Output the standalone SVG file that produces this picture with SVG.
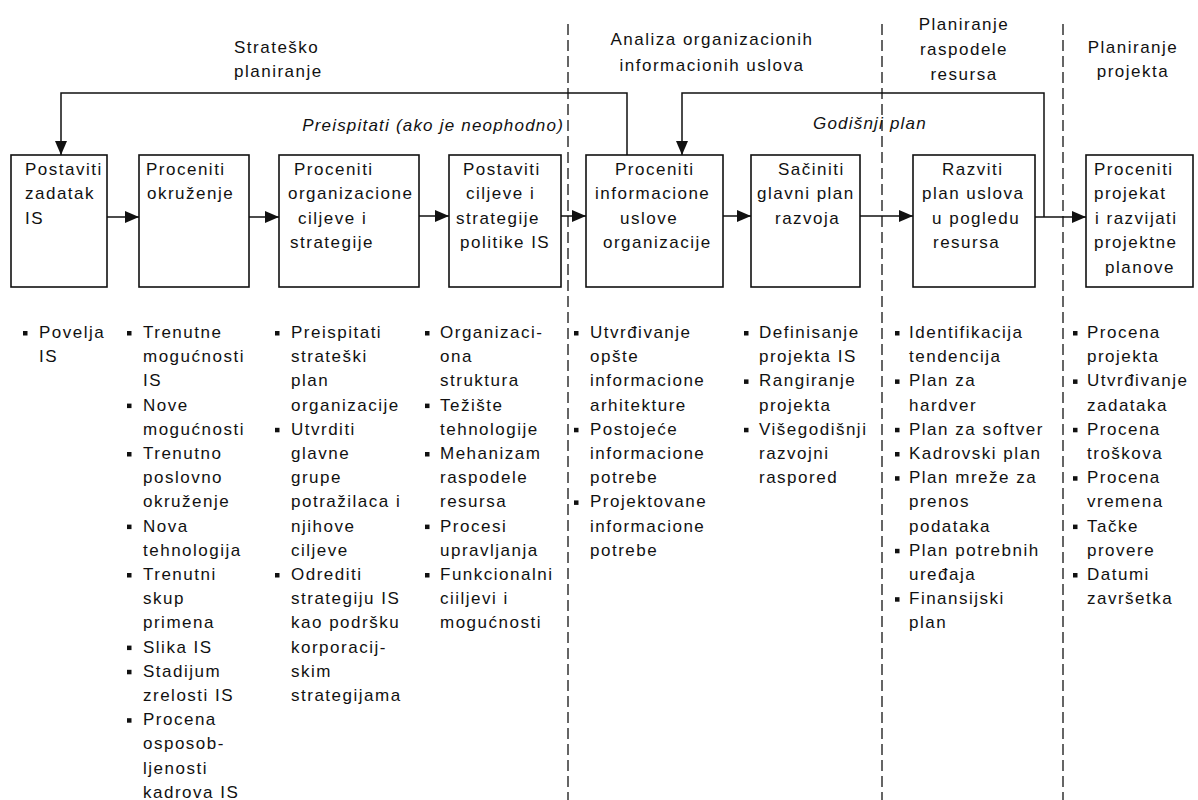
<svg xmlns="http://www.w3.org/2000/svg" width="1198" height="800" viewBox="0 0 1198 800">
  <style>
    text { font-family: "Liberation Sans", Arial, sans-serif; font-size: 17px; letter-spacing: 1.5px; fill: #111; }
    .it { font-style: italic; letter-spacing: 1.2px; }
    .box { fill: #fff; stroke: #111; stroke-width: 1.6; }
    .conn { fill: none; stroke: #111; stroke-width: 1.5; }
    .lane { stroke: #333; stroke-width: 1.5; stroke-dasharray: 11 5; }
    .b { fill: #111; }
  </style>
  <defs>
    <marker id="arrow" markerUnits="userSpaceOnUse" markerWidth="14" markerHeight="12" refX="14" refY="6" orient="auto">
      <path d="M0,0 L14,6 L0,12 z" fill="#111"/>
    </marker>
  </defs>
  <rect width="1198" height="800" fill="#fff"/>

  <!-- phase separators -->
  <g id="lanes">
    <line class="lane" x1="568" y1="24" x2="568" y2="800"/>
    <line class="lane" x1="882" y1="24" x2="882" y2="800"/>
    <line class="lane" x1="1063" y1="24" x2="1063" y2="800"/>
  </g>

  <!-- phase titles -->
  <g id="titles">
    <text x="234" y="53">Strateško</text>
    <text x="234" y="77">planiranje</text>
    <text x="712" y="45" text-anchor="middle">Analiza organizacionih</text>
    <text x="712" y="71" text-anchor="middle">informacionih uslova</text>
    <text x="964" y="30" text-anchor="middle">Planiranje</text>
    <text x="964" y="55" text-anchor="middle">raspodele</text>
    <text x="964" y="80" text-anchor="middle">resursa</text>
    <text x="1133" y="53" text-anchor="middle">Planiranje</text>
    <text x="1133" y="77" text-anchor="middle">projekta</text>
  </g>

  <!-- connectors -->
  <g id="connectors">
    <path class="conn" d="M107,217 H139" marker-end="url(#arrow)"/>
    <path class="conn" d="M249,217 H279" marker-end="url(#arrow)"/>
    <path class="conn" d="M419,216 H449" marker-end="url(#arrow)"/>
    <path class="conn" d="M561,216 H586" marker-end="url(#arrow)"/>
    <path class="conn" d="M723,216 H751" marker-end="url(#arrow)"/>
    <path class="conn" d="M860,216 H913" marker-end="url(#arrow)"/>
    <path class="conn" d="M1035,217 H1086" marker-end="url(#arrow)"/>
    <path class="conn" d="M627,155 V93 H61 V155" marker-end="url(#arrow)"/>
    <path class="conn" d="M1044,217 V93 H682 V155" marker-end="url(#arrow)"/>
    <text class="it" x="564" y="131" text-anchor="end">Preispitati (ako je neophodno)</text>
    <text class="it" x="813" y="129">Godišnji plan</text>
  </g>

  <!-- process steps -->
  <g id="n1">
    <rect class="box" x="11" y="155" width="96" height="132"/>
    <text x="25" y="175">Postaviti</text>
    <text x="25" y="199.4">zadatak</text>
    <text x="25" y="223.8">IS</text>
  </g>
  <g id="n2">
    <rect class="box" x="139" y="155" width="110" height="132"/>
    <text x="146" y="175">Proceniti</text>
    <text x="147" y="199.4">okruženje</text>
  </g>
  <g id="n3">
    <rect class="box" x="279" y="155" width="140" height="132"/>
    <text x="294" y="175">Proceniti</text>
    <text x="288" y="199.4">organizacione</text>
    <text x="298" y="223.8">ciljeve i</text>
    <text x="290" y="248.2">strategije</text>
  </g>
  <g id="n4">
    <rect class="box" x="449" y="155" width="112" height="132"/>
    <text x="463" y="175">Postaviti</text>
    <text x="466" y="199.4">ciljeve i</text>
    <text x="456" y="223.8">strategije</text>
    <text x="460" y="248.2">politike IS</text>
  </g>
  <g id="n5">
    <rect class="box" x="586" y="155" width="137" height="132"/>
    <text x="615" y="175">Proceniti</text>
    <text x="595" y="199.4">informacione</text>
    <text x="620" y="223.8">uslove</text>
    <text x="603" y="248.2">organizacije</text>
  </g>
  <g id="n6">
    <rect class="box" x="751" y="155" width="109" height="132"/>
    <text x="778" y="175">Sačiniti</text>
    <text x="757" y="199.4">glavni plan</text>
    <text x="775" y="223.8">razvoja</text>
  </g>
  <g id="n7">
    <rect class="box" x="913" y="155" width="122" height="132"/>
    <text x="942" y="175">Razviti</text>
    <text x="922" y="199.4">plan uslova</text>
    <text x="932" y="223.8">u pogledu</text>
    <text x="933" y="248.2">resursa</text>
  </g>
  <g id="n8">
    <rect class="box" x="1086" y="155" width="107" height="132"/>
    <text x="1094" y="175">Proceniti</text>
    <text x="1094" y="199.4">projekat</text>
    <text x="1095" y="223.8">i razvijati</text>
    <text x="1094" y="248.2">projektne</text>
    <text x="1105" y="272.6">planove</text>
  </g>

  <!-- activity lists -->
  <g id="list1">
    <rect class="b" x="23" y="331" width="4.5" height="4.5"/>
    <text>
      <tspan x="39" y="338">Povelja</tspan>
      <tspan x="39" dy="24.2">IS</tspan>
    </text>
  </g>
  <g id="list2">
    <rect class="b" x="127" y="331" width="4.5" height="4.5"/>
    <rect class="b" x="127" y="403.6" width="4.5" height="4.5"/>
    <rect class="b" x="127" y="452" width="4.5" height="4.5"/>
    <rect class="b" x="127" y="524.6" width="4.5" height="4.5"/>
    <rect class="b" x="127" y="573" width="4.5" height="4.5"/>
    <rect class="b" x="127" y="645.6" width="4.5" height="4.5"/>
    <rect class="b" x="127" y="669.8" width="4.5" height="4.5"/>
    <rect class="b" x="127" y="718.2" width="4.5" height="4.5"/>
    <text>
      <tspan x="143" y="338">Trenutne</tspan>
      <tspan x="143" dy="24.2">mogućnosti</tspan>
      <tspan x="143" dy="24.2">IS</tspan>
      <tspan x="143" dy="24.2">Nove</tspan>
      <tspan x="143" dy="24.2">mogućnosti</tspan>
      <tspan x="143" dy="24.2">Trenutno</tspan>
      <tspan x="143" dy="24.2">poslovno</tspan>
      <tspan x="143" dy="24.2">okruženje</tspan>
      <tspan x="143" dy="24.2">Nova</tspan>
      <tspan x="143" dy="24.2">tehnologija</tspan>
      <tspan x="143" dy="24.2">Trenutni</tspan>
      <tspan x="143" dy="24.2">skup</tspan>
      <tspan x="143" dy="24.2">primena</tspan>
      <tspan x="143" dy="24.2">Slika IS</tspan>
      <tspan x="143" dy="24.2">Stadijum</tspan>
      <tspan x="143" dy="24.2">zrelosti IS</tspan>
      <tspan x="143" dy="24.2">Procena</tspan>
      <tspan x="143" dy="24.2">osposob-</tspan>
      <tspan x="143" dy="24.2">ljenosti</tspan>
      <tspan x="143" dy="24.2">kadrova IS</tspan>
    </text>
  </g>
  <g id="list3">
    <rect class="b" x="275" y="331" width="4.5" height="4.5"/>
    <rect class="b" x="275" y="427.8" width="4.5" height="4.5"/>
    <rect class="b" x="275" y="573" width="4.5" height="4.5"/>
    <text>
      <tspan x="291" y="338">Preispitati</tspan>
      <tspan x="291" dy="24.2">strateški</tspan>
      <tspan x="291" dy="24.2">plan</tspan>
      <tspan x="291" dy="24.2">organizacije</tspan>
      <tspan x="291" dy="24.2">Utvrditi</tspan>
      <tspan x="291" dy="24.2">glavne</tspan>
      <tspan x="291" dy="24.2">grupe</tspan>
      <tspan x="291" dy="24.2">potražilaca i</tspan>
      <tspan x="291" dy="24.2">njihove</tspan>
      <tspan x="291" dy="24.2">ciljeve</tspan>
      <tspan x="291" dy="24.2">Odrediti</tspan>
      <tspan x="291" dy="24.2">strategiju IS</tspan>
      <tspan x="291" dy="24.2">kao podršku</tspan>
      <tspan x="291" dy="24.2">korporacij-</tspan>
      <tspan x="291" dy="24.2">skim</tspan>
      <tspan x="291" dy="24.2">strategijama</tspan>
    </text>
  </g>
  <g id="list4">
    <rect class="b" x="425" y="331" width="4.5" height="4.5"/>
    <rect class="b" x="425" y="403.6" width="4.5" height="4.5"/>
    <rect class="b" x="425" y="452" width="4.5" height="4.5"/>
    <rect class="b" x="425" y="524.6" width="4.5" height="4.5"/>
    <rect class="b" x="425" y="573" width="4.5" height="4.5"/>
    <text>
      <tspan x="440" y="338">Organizaci-</tspan>
      <tspan x="440" dy="24.2">ona</tspan>
      <tspan x="440" dy="24.2">struktura</tspan>
      <tspan x="440" dy="24.2">Težište</tspan>
      <tspan x="440" dy="24.2">tehnologije</tspan>
      <tspan x="440" dy="24.2">Mehanizam</tspan>
      <tspan x="440" dy="24.2">raspodele</tspan>
      <tspan x="440" dy="24.2">resursa</tspan>
      <tspan x="440" dy="24.2">Procesi</tspan>
      <tspan x="440" dy="24.2">upravljanja</tspan>
      <tspan x="440" dy="24.2">Funkcionalni</tspan>
      <tspan x="440" dy="24.2">ciiljevi i</tspan>
      <tspan x="440" dy="24.2">mogućnosti</tspan>
    </text>
  </g>
  <g id="list5">
    <rect class="b" x="574" y="331" width="4.5" height="4.5"/>
    <rect class="b" x="574" y="427.8" width="4.5" height="4.5"/>
    <rect class="b" x="574" y="500.4" width="4.5" height="4.5"/>
    <text>
      <tspan x="590" y="338">Utvrđivanje</tspan>
      <tspan x="590" dy="24.2">opšte</tspan>
      <tspan x="590" dy="24.2">informacione</tspan>
      <tspan x="590" dy="24.2">arhitekture</tspan>
      <tspan x="590" dy="24.2">Postojeće</tspan>
      <tspan x="590" dy="24.2">informacione</tspan>
      <tspan x="590" dy="24.2">potrebe</tspan>
      <tspan x="590" dy="24.2">Projektovane</tspan>
      <tspan x="590" dy="24.2">informacione</tspan>
      <tspan x="590" dy="24.2">potrebe</tspan>
    </text>
  </g>
  <g id="list6">
    <rect class="b" x="744" y="331" width="4.5" height="4.5"/>
    <rect class="b" x="744" y="379.4" width="4.5" height="4.5"/>
    <rect class="b" x="744" y="427.8" width="4.5" height="4.5"/>
    <text>
      <tspan x="759" y="338">Definisanje</tspan>
      <tspan x="759" dy="24.2">projekta IS</tspan>
      <tspan x="759" dy="24.2">Rangiranje</tspan>
      <tspan x="759" dy="24.2">projekta</tspan>
      <tspan x="759" dy="24.2">Višegodišnji</tspan>
      <tspan x="759" dy="24.2">razvojni</tspan>
      <tspan x="759" dy="24.2">raspored</tspan>
    </text>
  </g>
  <g id="list7">
    <rect class="b" x="895" y="331" width="4.5" height="4.5"/>
    <rect class="b" x="895" y="379.4" width="4.5" height="4.5"/>
    <rect class="b" x="895" y="427.8" width="4.5" height="4.5"/>
    <rect class="b" x="895" y="452" width="4.5" height="4.5"/>
    <rect class="b" x="895" y="476.2" width="4.5" height="4.5"/>
    <rect class="b" x="895" y="548.8" width="4.5" height="4.5"/>
    <rect class="b" x="895" y="597.2" width="4.5" height="4.5"/>
    <text>
      <tspan x="909" y="338">Identifikacija</tspan>
      <tspan x="909" dy="24.2">tendencija</tspan>
      <tspan x="909" dy="24.2">Plan za</tspan>
      <tspan x="909" dy="24.2">hardver</tspan>
      <tspan x="909" dy="24.2">Plan za softver</tspan>
      <tspan x="909" dy="24.2">Kadrovski plan</tspan>
      <tspan x="909" dy="24.2">Plan mreže za</tspan>
      <tspan x="909" dy="24.2">prenos</tspan>
      <tspan x="909" dy="24.2">podataka</tspan>
      <tspan x="909" dy="24.2">Plan potrebnih</tspan>
      <tspan x="909" dy="24.2">uređaja</tspan>
      <tspan x="909" dy="24.2">Finansijski</tspan>
      <tspan x="909" dy="24.2">plan</tspan>
    </text>
  </g>
  <g id="list8">
    <rect class="b" x="1073" y="331" width="4.5" height="4.5"/>
    <rect class="b" x="1073" y="379.4" width="4.5" height="4.5"/>
    <rect class="b" x="1073" y="427.8" width="4.5" height="4.5"/>
    <rect class="b" x="1073" y="476.2" width="4.5" height="4.5"/>
    <rect class="b" x="1073" y="524.6" width="4.5" height="4.5"/>
    <rect class="b" x="1073" y="573" width="4.5" height="4.5"/>
    <text>
      <tspan x="1087" y="338">Procena</tspan>
      <tspan x="1087" dy="24.2">projekta</tspan>
      <tspan x="1087" dy="24.2">Utvrđivanje</tspan>
      <tspan x="1087" dy="24.2">zadataka</tspan>
      <tspan x="1087" dy="24.2">Procena</tspan>
      <tspan x="1087" dy="24.2">troškova</tspan>
      <tspan x="1087" dy="24.2">Procena</tspan>
      <tspan x="1087" dy="24.2">vremena</tspan>
      <tspan x="1087" dy="24.2">Tačke</tspan>
      <tspan x="1087" dy="24.2">provere</tspan>
      <tspan x="1087" dy="24.2">Datumi</tspan>
      <tspan x="1087" dy="24.2">završetka</tspan>
    </text>
  </g>
</svg>
